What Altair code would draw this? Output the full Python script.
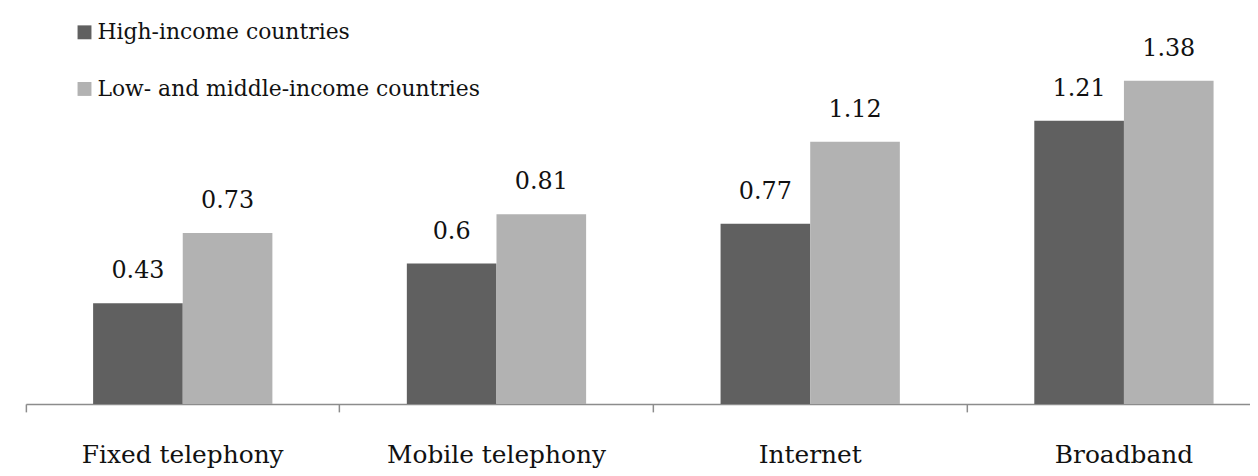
import altair as alt
import pandas as pd

categories = ["Fixed telephony", "Mobile telephony", "Internet", "Broadband"]
series = ["High-income countries", "Low- and middle-income countries"]
high_income = [0.43, 0.6, 0.77, 1.21]
low_middle = [0.73, 0.81, 1.12, 1.38]

rows = []
for c, h, l in zip(categories, high_income, low_middle):
    rows.append({"category": c, "group": series[0], "value": h, "label": f"{h:g}"})
    rows.append({"category": c, "group": series[1], "value": l, "label": f"{l:g}"})
df = pd.DataFrame(rows)

FONT = "DejaVu Serif"

x = alt.X(
    "category:N",
    sort=categories,
    title=None,
    scale=alt.Scale(range=[0, 1263], paddingInner=0, paddingOuter=0),
    axis=alt.Axis(
        bandPosition=0,
        labelAngle=0,
        labelFont=FONT,
        labelFontSize=25,
        labelColor="#111111",
        labelPadding=31,
        labelLimit=500,
        tickSize=8,
        tickColor="#8c8c8c",
        tickWidth=1.5,
        domainColor="#8c8c8c",
        domainWidth=1.5,
        grid=False,
    ),
)
xo = alt.XOffset(
    "group:N",
    sort=series,
    scale=alt.Scale(paddingInner=0, paddingOuter=0.75),
)
y = alt.Y(
    "value:Q",
    scale=alt.Scale(domain=[0, 1.6]),
    axis=None,
)

base = alt.Chart(df).encode(x=x, xOffset=xo, y=y)

bars = base.mark_bar().encode(
    color=alt.Color(
        "group:N",
        sort=series,
        scale=alt.Scale(domain=series, range=["#606060", "#b2b2b2"]),
        legend=alt.Legend(
            title=None,
            orient="none",
            legendX=48,
            legendY=-8,
            symbolType="square",
            symbolSize=196,
            symbolStrokeWidth=0,
            labelFont=FONT,
            labelFontSize=22,
            labelColor="#111111",
            labelOffset=2,
            rowPadding=35,
            labelLimit=600,
        ),
    )
)

text = base.mark_text(
    baseline="alphabetic", dy=-25, font=FONT, fontSize=24, color="#111111"
).encode(text="label:N")

chart = (
    alt.layer(bars, text)
    .properties(
        width=1232,
        height=377,
        autosize=alt.AutoSizeParams(type="none"),
        padding={"left": 18, "top": 20, "right": 0, "bottom": 63},
        view=alt.ViewBackground(stroke=None, strokeWidth=0),
    )
    .configure_view(strokeWidth=0, stroke=None)
    .configure(background="white")
)

chart.save("out.html", embed_options={"renderer": "svg", "actions": False})
